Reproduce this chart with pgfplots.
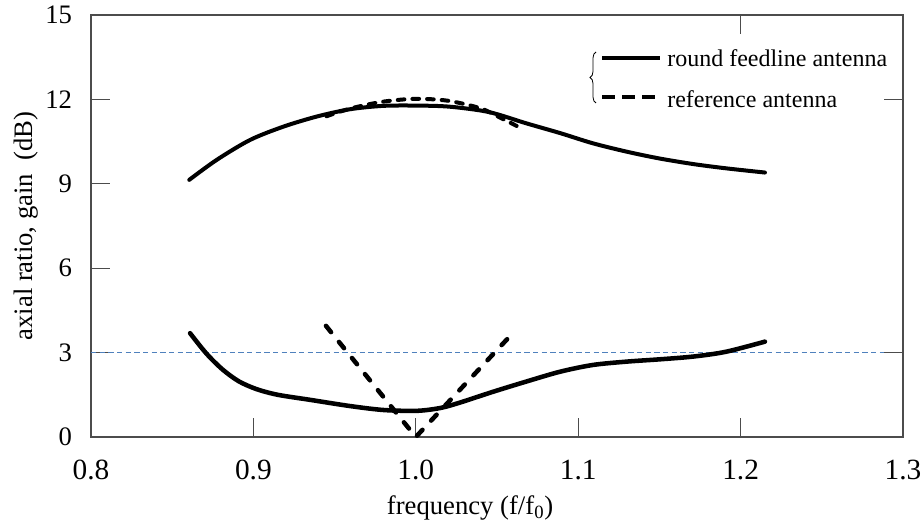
\documentclass[border=0pt]{standalone}
\usepackage{fontspec}
\setmainfont{Liberation Serif}
\usepackage{pgfplots}
\pgfplotsset{compat=1.18}
\usetikzlibrary{decorations.pathreplacing}
\definecolor{refblue}{RGB}{79,129,189}
\begin{document}
\begin{tikzpicture}[x=1pt,y=1pt]
\useasboundingbox (0,0) rectangle (693,395.25);
\begin{axis}[
  at={(68.25pt,67.5pt)}, anchor=south west,
  scale only axis, width=609pt, height=316.5pt,
  xmin=0.8, xmax=1.3, ymin=0, ymax=15,
  xtick={0.8,0.9,1.0,1.1,1.2,1.3},
  xticklabels={0.8,0.9,1.0,1.1,1.2,1.3},
  ytick={0,3,6,9,12,15},
  xtick pos=bottom, ytick pos=left,
  tick align=inside,
  major tick length=14pt,
  tick style={black!70, line width=0.8pt},
  axis line style={black!70, line width=1pt},
  /pgf/number format/assume math mode=true,
  yticklabel style={font=\fontsize{20}{24}\selectfont, inner sep=0pt, xshift=-14pt},
  xticklabel style={font=\fontsize{22}{26}\selectfont, inner sep=0pt, yshift=-17pt},
  label style={font=\fontsize{20}{24}\selectfont},
  xlabel={frequency (f/f\textsubscript{0})},
  ylabel={axial ratio, gain\ \ (dB)},
  xlabel style={at={(axis description cs:0.4668,-0.1682)}, anchor=center, inner sep=0pt},
  ylabel style={at={(axis description cs:-0.08,0.5)}, anchor=center, inner sep=0pt},
  clip=false,
]
% 3 dB reference line
\addplot[refblue, line width=1.1pt, dash pattern=on 4pt off 2.5pt] coordinates {(0.8,3) (1.3,3)};
% gain, round feedline antenna
\addplot[black, line width=3pt, smooth, line cap=round] coordinates {
 (0.8605,9.14) (0.8774,9.85) (0.898,10.56) (0.9184,11.03) (0.939,11.39)
 (0.9595,11.65) (0.980,11.77) (1.0006,11.78) (1.021,11.74) (1.045,11.55)
 (1.068,11.15) (1.089,10.80) (1.109,10.44) (1.130,10.14) (1.150,9.90)
 (1.171,9.70) (1.191,9.55) (1.215,9.40)};
% gain, reference antenna
\addplot[black, line width=3pt, smooth, line cap=round, dash pattern=on 5pt off 6pt] coordinates {
 (0.945,11.40) (0.96,11.68) (0.98,11.92) (1.0,12.02) (1.02,11.95)
 (1.04,11.68) (1.052,11.35) (1.064,11.0)};
% axial ratio, round feedline antenna
\addplot[black, line width=3.4pt, smooth, line cap=round] coordinates {
 (0.861,3.69) (0.871,2.97) (0.881,2.40) (0.891,1.98) (0.902,1.70)
 (0.915,1.50) (0.935,1.32) (0.9595,1.10) (0.980,0.96) (1.0006,0.93)
 (1.015,1.03) (1.027,1.22) (1.0477,1.61) (1.068,1.97) (1.0888,2.32)
 (1.109,2.56) (1.130,2.68) (1.150,2.76) (1.171,2.86) (1.191,3.03) (1.215,3.39)};
% axial ratio, reference antenna
\addplot[black, line width=3.4pt, line cap=round, dash pattern=on 6pt off 9.5pt] coordinates {
 (0.9447,3.95) (1.0,0.0) (1.060,3.71)};
% extra ticks on top and right
\draw[black!70, line width=0.8pt] (axis cs:1.2,15) -- ([yshift=-14pt]axis cs:1.2,15);
\draw[black!70, line width=0.8pt] (axis cs:1.3,12) -- ([xshift=-14pt]axis cs:1.3,12);
\draw[black!70, line width=0.8pt] (axis cs:1.3,3) -- ([xshift=-14pt]axis cs:1.3,3);
\end{axis}
% legend
\draw[black, line width=3pt] (451.5,351.75) -- (495,351.75);
\node[anchor=west, inner sep=0pt, font=\fontsize{18}{22}\selectfont] at (500.25,351.75) {round feedline antenna};
\draw[black, line width=3.5pt, dash pattern=on 10pt off 5pt] (451.5,322.5) -- (493,322.5);
\node[anchor=west, inner sep=0pt, font=\fontsize{18}{22}\selectfont] at (500.25,321) {reference antenna};
\draw[black, line width=0.6pt, decorate, decoration={brace, amplitude=4.5pt}] (447,318) -- (447,356.25);
\end{tikzpicture}
\end{document}
